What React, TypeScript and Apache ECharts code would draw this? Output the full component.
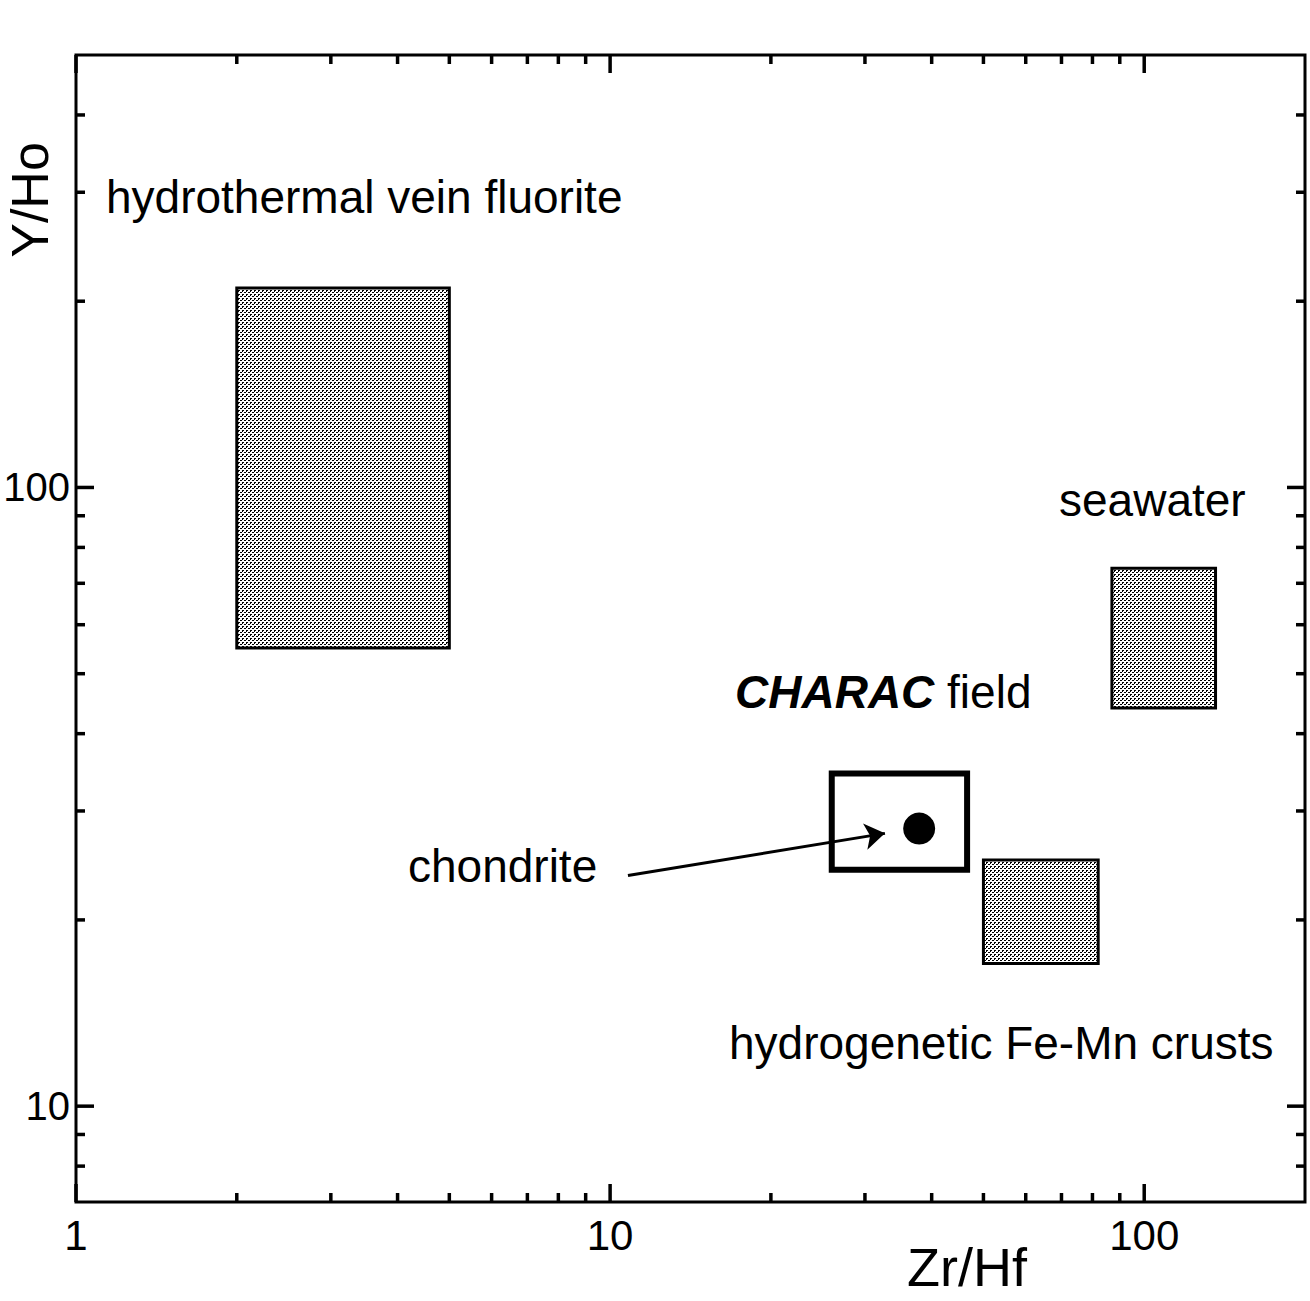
import React, { useEffect, useRef } from 'react';
import * as echarts from 'echarts';

// Axis ranges (log10 scales)
const xRange = [1, 200];
const yRange = [7, 500];

// Tick values
const xMajorTicks = [1, 10, 100];
const xMinorTicks = [2, 3, 4, 5, 6, 7, 8, 9, 20, 30, 40, 50, 60, 70, 80, 90];
const yMajorTicks = [10, 100];
const yMinorTicks = [8, 9, 20, 30, 40, 50, 60, 70, 80, 90, 200, 300, 400];

// Shaded fields (Zr/Hf range, Y/Ho range)
const fieldNames = ['hydrothermal vein fluorite', 'seawater', 'hydrogenetic Fe-Mn crusts'];
const fieldZrHfMin = [2, 87, 50];
const fieldZrHfMax = [5, 136, 82];
const fieldYHoMin = [55, 44, 17];
const fieldYHoMax = [210, 74, 25];

// CHARAC field box
const characZrHf = [26, 46.6];
const characYHo = [24.1, 34.5];

// Chondrite point
const chondriteZrHf = 37.9;
const chondriteYHo = 28.1;

// Arrow (from label to chondrite)
const arrowFrom = [10.8, 23.6];
const arrowTo = [32.7, 27.6];

const FONT = '"Liberation Sans", Arial, Helvetica, sans-serif';

function makePattern(): HTMLCanvasElement {
  const c = document.createElement('canvas');
  c.width = 4;
  c.height = 4;
  const ctx = c.getContext('2d')!;
  ctx.fillStyle = '#ffffff';
  ctx.fillRect(0, 0, 4, 4);
  ctx.fillStyle = '#000000';
  const pts = [[0, 0], [1, 0], [2, 2], [3, 2], [2, 3]];
  pts.forEach(([x, y]) => ctx.fillRect(x, y, 1, 1));
  return c;
}

export default function App() {
  const ref = useRef<HTMLDivElement>(null);

  useEffect(() => {
    if (!ref.current) return;
    const chart = echarts.init(ref.current, undefined, { renderer: 'svg' });
    const pattern = makePattern();

    const fieldData = fieldNames.map((n, i) => [fieldZrHfMin[i], fieldZrHfMax[i], fieldYHoMin[i], fieldYHoMax[i], n]);

    const rectRender = (fill: any, lineWidth: number) => (params: any, api: any) => {
      const p0 = api.coord([api.value(0), api.value(3)]);
      const p1 = api.coord([api.value(1), api.value(2)]);
      return {
        type: 'rect',
        shape: { x: p0[0], y: p0[1], width: p1[0] - p0[0], height: p1[1] - p0[1] },
        style: { fill, stroke: '#000', lineWidth },
      };
    };

    const tickStyle = { stroke: '#000', lineWidth: 3.5 };
    const xTickRender = (params: any, api: any) => {
      const cs = params.coordSys;
      const p = api.coord([api.value(0), api.value(1)]);
      const len = api.value(2) ? 18 : 9;
      return {
        type: 'group',
        children: [
          { type: 'line', shape: { x1: p[0], y1: cs.y + cs.height, x2: p[0], y2: cs.y + cs.height - len }, style: tickStyle },
          { type: 'line', shape: { x1: p[0], y1: cs.y, x2: p[0], y2: cs.y + len }, style: tickStyle },
        ],
      };
    };
    const yTickRender = (params: any, api: any) => {
      const cs = params.coordSys;
      const p = api.coord([api.value(0), api.value(1)]);
      const len = api.value(2) ? 18 : 9;
      return {
        type: 'group',
        children: [
          { type: 'line', shape: { x1: cs.x, y1: p[1], x2: cs.x + len, y2: p[1] }, style: tickStyle },
          { type: 'line', shape: { x1: cs.x + cs.width, y1: p[1], x2: cs.x + cs.width - len, y2: p[1] }, style: tickStyle },
        ],
      };
    };

    const xTickData = [
      ...xMajorTicks.map((v) => [v, yRange[0], 1]),
      ...xMinorTicks.map((v) => [v, yRange[0], 0]),
    ];
    const yTickData = [
      ...yMajorTicks.map((v) => [xRange[0], v, 1]),
      ...yMinorTicks.map((v) => [xRange[0], v, 0]),
    ];

    const labelFmt = (ticks: number[]) => (v: number) => {
      const r = Math.round(v);
      return ticks.includes(r) && Math.abs(v - r) < 1e-6 ? String(r) : '';
    };

    const textStyle = (x: number, y: number, text: string, extra: any = {}) => ({
      type: 'text',
      x,
      y,
      style: {
        text,
        font: `46px ${FONT}`,
        fill: '#000',
        textAlign: 'left',
        textVerticalAlign: 'middle',
        ...extra,
      },
    });

    chart.setOption({
      animation: false,
      backgroundColor: '#ffffff',
      grid: {
        left: 76,
        right: 5,
        top: 55,
        bottom: 99,
        containLabel: false,
        outerBoundsMode: 'none',
        show: true,
        borderColor: '#000',
        borderWidth: 3,
        backgroundColor: 'transparent',
      },
      xAxis: {
        type: 'log',
        logBase: 10,
        min: xRange[0],
        max: xRange[1],
        axisLine: { show: false },
        axisTick: { show: false },
        splitLine: { show: false },
        minorTick: { show: false },
        axisLabel: {
          color: '#000',
          fontSize: 42,
          fontFamily: FONT,
          margin: 12,
          formatter: labelFmt(xMajorTicks),
          showMinLabel: true,
          showMaxLabel: false,
        },
      },
      yAxis: {
        type: 'log',
        logBase: 10,
        min: yRange[0],
        max: yRange[1],
        axisLine: { show: false },
        axisTick: { show: false },
        splitLine: { show: false },
        axisLabel: {
          color: '#000',
          fontSize: 40,
          fontFamily: FONT,
          margin: 6,
          formatter: labelFmt(yMajorTicks),
          showMinLabel: false,
          showMaxLabel: false,
        },
      },
      series: [
        {
          type: 'custom',
          name: 'fields',
          data: fieldData,
          encode: { x: [0, 1], y: [2, 3] },
          renderItem: rectRender({ image: pattern, repeat: 'repeat' }, 3),
          z: 2,
        },
        {
          type: 'custom',
          name: 'CHARAC field',
          data: [[characZrHf[0], characZrHf[1], characYHo[0], characYHo[1]]],
          encode: { x: [0, 1], y: [2, 3] },
          renderItem: rectRender('none', 6),
          z: 3,
        },
        {
          type: 'lines',
          coordinateSystem: 'cartesian2d',
          data: [{ coords: [arrowFrom, arrowTo] }],
          symbol: ['none', 'arrow'],
          symbolSize: 20,
          lineStyle: { color: '#000', width: 3, opacity: 1 },
          z: 4,
        },
        {
          type: 'scatter',
          name: 'chondrite',
          data: [[chondriteZrHf, chondriteYHo]],
          symbol: 'circle',
          symbolSize: 32,
          itemStyle: { color: '#000', opacity: 1 },
          z: 5,
        },
        {
          type: 'custom',
          name: 'xticks',
          data: xTickData,
          encode: { x: 0, y: 1 },
          renderItem: xTickRender,
          z: 6,
        },
        {
          type: 'custom',
          name: 'yticks',
          data: yTickData,
          encode: { x: 0, y: 1 },
          renderItem: yTickRender,
          z: 6,
        },
      ],
      graphic: [
        textStyle(106, 197, fieldNames[0]),
        textStyle(1059, 500, fieldNames[1]),
        textStyle(729, 1043, fieldNames[2]),
        textStyle(408, 866, 'chondrite'),
        {
          type: 'text',
          x: 735,
          y: 692,
          style: {
            text: '{b|CHARAC} field',
            font: `46px ${FONT}`,
            fill: '#000',
            textAlign: 'left',
            textVerticalAlign: 'middle',
            rich: {
              b: { font: `italic bold 46px ${FONT}`, fill: '#000' },
            },
          },
        },
        {
          type: 'text',
          x: 967,
          y: 1267,
          style: {
            text: 'Zr/Hf',
            font: `54px ${FONT}`,
            fill: '#000',
            textAlign: 'center',
            textVerticalAlign: 'middle',
          },
        },
        {
          type: 'text',
          x: 30,
          y: 200,
          rotation: Math.PI / 2,
          style: {
            text: 'Y/Ho',
            font: `52px ${FONT}`,
            fill: '#000',
            textAlign: 'center',
            textVerticalAlign: 'middle',
          },
        },
      ],
    });

    return () => chart.dispose();
  }, []);

  return (
    <div
      ref={ref}
      style={{ position: 'fixed', left: 0, top: 0, width: 1310, height: 1301, background: '#fff' }}
    />
  );
}
